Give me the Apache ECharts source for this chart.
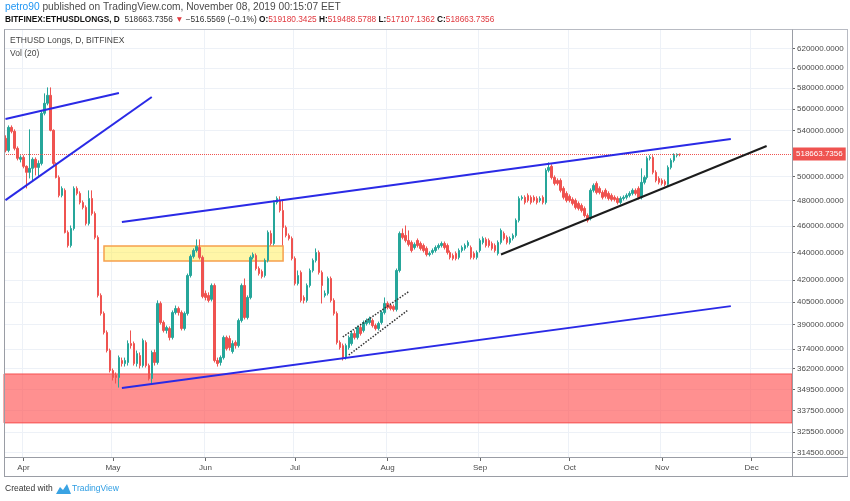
<!DOCTYPE html>
<html><head><meta charset="utf-8">
<script src="https://cdn.jsdelivr.net/npm/echarts@6/dist/echarts.min.js"></script>
<style>html,body{margin:0;padding:0;background:#fff}#c{width:850px;height:501px}</style>
</head><body><div id="c"></div><script>
// ---- data ----
const firstDay = [2019, 2, 26];
const lastDay = [2019, 11, 14];
const monthNames = ['Jan','Feb','Mar','Apr','May','Jun','Jul','Aug','Sep','Oct','Nov','Dec'];
const priceTicks = [620000, 600000, 580000, 560000, 540000, 500000, 480000, 460000, 440000, 420000, 405000, 390000, 374000, 362000, 349500, 337500, 325500, 314500];
const yMin = 312100, yMax = 639350;
const lastPrice = 518663.7356;
// [open, close, low, high]
const ohlc = [
[533000,522300,520600,535700],[522300,542900,520600,544700],[542900,539300,537500,544700],[539300,524100,522300,541100],
[524100,515400,513600,525800],[514500,516200,511900,518000],[516200,508500,506800,518000],[508500,503400,490000,509300],
[503400,506800,498300,541100],[506800,514500,496600,516200],[514500,507600,500800,516200],[507600,511000,499100,513600],
[511000,555900,509300,557800],[555900,565300,554000,574800],[565300,572900,563400,580600],[572900,540200,539300,580600],
[540200,511000,509300,541100],[511000,499100,498300,511900],[499100,484300,482700,500800],[484300,490000,482700,491700],
[488400,455100,454300,490000],[455100,445200,443700,456600],[445200,458100,443700,460400],[458100,490000,456600,491700],
[490000,485900,484300,491700],[485900,478600,477000,487600],[478600,474600,473000,480200],[474600,462000,460400,476200],
[462000,481800,460400,488400],[481800,469800,468200,488400],[469800,451300,449800,471400],[451300,409400,408000,452800],
[409400,397200,395800,410800],[397200,384700,383400,398500],[384700,373200,372000,386000],[373200,360900,359700,374400],
[360900,356700,354900,362100],[357900,356700,353100,359700],[356700,368800,350700,370100],[367000,365100,363300,368800],
[365100,367000,363300,368800],[365800,377600,363900,379600],[377600,376300,374400,386000],[377600,365100,363900,378900],
[365100,371300,363300,373200],[370100,363900,362100,372000],[363900,379600,362700,380800],[378300,363900,362700,379600],
[363900,356100,354900,365100],[356100,372000,353100,373200],[372000,365800,363900,373800],[365800,403900,364500,406000],
[403900,391200,389900,405300],[391200,386000,384700,392500],[386000,387900,384000,389200],[387300,381500,379600,388600],
[381500,397800,380200,399200],[397800,400500,396500,402500],[400500,397800,395800,401800],[397800,387300,386000,399200],
[387300,397200,386000,398500],[397200,423300,395800,424700],[423300,437100,421900,438500],[437100,441500,435600,443000],
[441500,444500,440000,449800],[443700,436400,434900,449800],[436400,408700,407400,437800],[410800,408000,406000,412800],
[409400,406000,404600,411500],[406700,416300,405300,417700],[416300,367000,365800,417700],[367000,365100,363300,368800],
[365800,368800,363900,370100],[368800,381500,367600,382700],[381500,374400,373200,382700],[380800,375100,373200,382700],
[372600,377600,371300,379600],[378300,376300,374400,379600],[376300,392500,375100,393800],[392500,416300,391200,417700],
[416300,394500,393200,421200],[394500,408000,393200,409400],[408000,436400,406700,437800],[436400,438500,434900,440000],
[437800,428300,426900,439300],[428300,424700,423300,429800],[426200,422600,421200,427600],[423300,434200,421900,435600],
[434200,455100,432700,456600],[454300,446700,445200,456600],[446700,478600,445200,480200],[478600,481800,477000,483500],
[480200,472200,470600,483500],[472200,458900,445200,480200],[458900,452800,451300,460400],[452800,450500,449000,454300],
[450500,435600,434200,452000],[435600,417700,416300,437100],[417700,423300,416300,426900],[425500,406000,404600,426900],
[408000,406000,403900,409400],[406000,416300,404600,417700],[416300,426900,414900,428300],[426900,434200,425500,435600],
[434200,440000,432700,443000],[440000,425500,424000,441500],[425500,416300,403900,426900],[409400,410800,408000,412800],
[410800,421200,409400,422600],[421200,406000,404600,422600],[406000,397200,395800,407400],[397200,378300,377000,398500],
[378300,375100,373800,379600],[376300,368800,367000,377600],[368800,376300,367600,377600],[375100,381500,373800,382700],
[377600,384000,376300,386000],[384000,381500,380200,386000],[381500,387900,380200,389200],[387900,384000,382700,389200],
[386000,391200,384700,392500],[390500,392500,389200,393800],[391200,393800,389900,395100],[392500,389200,387900,393800],
[389200,387300,386000,390500],[387300,390500,386000,391800],[391200,397800,389900,399200],[397800,403900,396500,408000],
[403900,401200,399900,405300],[402500,400500,399200,403900],[401800,399900,398500,403200],[399900,426900,398500,428300],
[426900,454300,425500,455800],[454300,451300,449800,458100],[452800,449000,447500,460400],[449000,446000,444500,456600],
[447500,441500,440000,449000],[443700,446000,442200,447500],[449000,445200,443700,450500],[446700,443000,441500,448200],
[445200,441500,440000,446700],[443000,438500,437100,444500],[438500,439300,437100,440800],[440000,441500,438500,443000],
[441500,443700,440000,445200],[443700,445200,442200,446700],[445200,446700,443700,448200],[446700,443700,442200,448200],
[445200,440000,438500,446700],[440000,436400,434900,441500],[437800,435600,434200,439300],[439300,435600,434200,440800],
[436400,441500,434900,443000],[441500,443700,440000,445200],[443000,445200,441500,446700],[445200,447500,443700,449000],
[443700,436400,434900,445200],[439300,436400,434900,440800],[436400,440000,434900,441500],[441500,449000,440000,450500],
[447500,450500,446000,452000],[449800,445200,443700,451300],[449000,445200,443700,450500],[446700,443000,441500,448200],
[445200,441500,440000,446700],[439300,447500,437800,449000],[447500,456600,446000,458100],[454300,450500,449000,455800],
[451300,447500,446000,452800],[447500,450500,446000,452000],[450500,452800,449000,454300],[452800,464400,451300,465900],
[464400,481800,462800,483500],[481800,482700,480200,484300],[482700,478600,477000,484300],[484300,480200,478600,485900],
[482700,478600,477000,484300],[482700,480200,478600,484300],[481800,478600,477000,483500],[480200,481800,478600,483500],
[482700,478600,477000,484300],[478600,505100,477000,506800],[505100,507600,503400,511900],[508500,499100,497400,510200],
[499100,494100,492500,500800],[496600,494100,492500,498300],[496600,488400,486700,498300],[490000,482700,481000,491700],
[485900,480200,478600,487600],[483500,480200,478600,485100],[481000,477800,476200,482700],[480200,474600,473000,481800],
[477800,473800,472200,479400],[476200,472200,470600,477800],[473800,468200,466700,475400],[468200,464400,462800,469800],
[465900,488400,464400,490000],[488400,492500,486700,494100],[494100,486700,485100,495800],[490000,486700,485100,491700],
[486700,482700,481000,488400],[488400,483500,481800,490000],[485900,481800,480200,487600],[484300,481000,479400,485900],
[482700,481000,479400,484300],[481800,478600,477000,483500],[478600,481800,477000,483500],[481800,482700,480200,484300],
[482700,484300,481000,485900],[484300,485900,482700,487600],[485900,488400,484300,490000],[488400,485900,484300,490000],
[490000,482700,481000,491700],[482700,495000,481000,506800],[495000,499100,493300,500800],[499100,515400,497400,517100],
[515400,516200,513600,518000],[516200,503400,501700,518000],[503400,496600,495000,505100],[498300,495000,493300,500000],
[496600,494100,492500,498300],[495800,493300,491700,497400],[493300,507600,491700,509300],[507600,513600,505900,515400],
[513600,518000,511900,519700],[518000,518900,516200,519700],[519180.3425,518663.7356,517107.1362,519488.5788]
];
// drawings: [startDate, startPrice, endDate, endPrice]
const blueLines = [
  ['2019-03-26', 550600, '2019-05-03', 575200],
  ['2019-03-26', 480500, '2019-05-14', 571300],
  ['2019-05-04', 463100, '2019-11-24', 532300],
  ['2019-05-04', 350500, '2019-11-24', 402100]
];
const blackLines = [['2019-09-08', 438500, '2019-12-06', 526200]];
const dottedLines = [
  ['2019-07-17', 381800, '2019-08-08', 411900],
  ['2019-07-19', 370400, '2019-08-08', 399700]
];
const yellowBox = ['2019-04-28', 444800, '2019-06-27', 433800];
const redZone = [358800, 330500];

// ---- build ----
const categories = [];
for (let t = Date.UTC(...firstDay); t <= Date.UTC(...lastDay); t += 86400000) {
  categories.push(new Date(t).toISOString().slice(0, 10));
}
const L = Math.log;
const F = 'Liberation Sans, Arial, sans-serif';
const isMonthStart = (i, v) => String(v).slice(8) === '01';
const tickLn = priceTicks.map(L);
const seg = (d, style) => [{coord: [d[0], L(d[1])], lineStyle: style}, {coord: [d[2], L(d[3])]}];

const chart = echarts.init(document.getElementById('c'), null, {renderer: 'canvas'});
chart.setOption({
  animation: false,
  backgroundColor: '#ffffff',
  grid: {left: 4, right: 58, top: 30, bottom: 44, containLabel: false, outerBoundsMode: 'none'},
  xAxis: {
    type: 'category', data: categories, boundaryGap: true,
    axisLine: {show: false},
    axisTick: {show: true, interval: isMonthStart, alignWithLabel: true, length: 4, lineStyle: {color: '#666'}},
    axisLabel: {interval: isMonthStart, formatter: v => monthNames[+v.slice(5, 7) - 1], color: '#4a4a4a', fontSize: 8, fontFamily: F, margin: 7},
    splitLine: {show: true, interval: isMonthStart, lineStyle: {color: '#edf1f7', width: 1}}
  },
  yAxis: {
    type: 'value', position: 'right', min: L(yMin), max: L(yMax),
    axisLine: {show: false},
    axisTick: {show: true, customValues: tickLn, length: 3, lineStyle: {color: '#666'}},
    axisLabel: {customValues: tickLn, formatter: v => Math.round(Math.exp(v)).toFixed(4), color: '#4a4a4a', fontSize: 8, fontFamily: F, margin: 5},
    splitLine: {show: true, lineStyle: {color: '#edf1f7', width: 1}}
  },
  series: [{
    type: 'candlestick',
    data: ohlc.map(r => r.map(L)),
    barWidth: 2,
    itemStyle: {color: '#26a69a', color0: '#ef5350', borderColor: '#26a69a', borderColor0: '#ef5350', borderWidth: 1},
    markArea: {
      silent: true, label: {show: false},
      data: [
        [{yAxis: L(redZone[0]), itemStyle: {color: 'rgba(255,82,82,0.64)', borderColor: 'rgba(245,70,70,0.9)', borderWidth: 1}}, {yAxis: L(redZone[1])}],
        [{coord: [yellowBox[0], L(yellowBox[1])], itemStyle: {color: 'rgba(255,238,80,0.5)', borderColor: '#f6a04d', borderWidth: 1.5}}, {coord: [yellowBox[2], L(yellowBox[3])]}]
      ]
    },
    markLine: {
      silent: true, symbol: ['none', 'none'], label: {show: false},
      emphasis: {disabled: true},
      data: [
        {yAxis: L(lastPrice), lineStyle: {color: '#ef5350', type: 'dotted', width: 1},
         label: {show: true, position: 'end', formatter: lastPrice.toFixed(4), color: '#fff', backgroundColor: '#ef5350', padding: [3, 3, 2, 3], fontSize: 8, fontFamily: F, distance: 1}},
        ...blueLines.map(d => seg(d, {color: '#2a2ae6', width: 2, type: 'solid'})),
        ...blackLines.map(d => seg(d, {color: '#1c1c1c', width: 2, type: 'solid'})),
        ...dottedLines.map(d => seg(d, {color: '#333333', width: 1.5, type: 'dotted'}))
      ]
    }
  }],
  graphic: [
    {type: 'text', left: 5, top: 2, z: 100, style: {text: '{u|petro90} published on TradingView.com, November 08, 2019 00:15:07 EET', fill: '#4a4a4a', fontSize: 10.2, fontFamily: F,
      rich: {u: {fill: '#2196f3', fontSize: 10.2, fontFamily: F}}}},
    {type: 'text', left: 5, top: 16, z: 100, style: {
      text: '{b|BITFINEX:ETHUSDLONGS, D}  518663.7356 {r|▼} −516.5569 (−0.1%) {b|O:}{r|519180.3425} {b|H:}{r|519488.5788} {b|L:}{r|517107.1362} {b|C:}{r|518663.7356}',
      fill: '#333', fontSize: 8.3, fontFamily: F,
      rich: {b: {fill: '#111', fontWeight: 'bold', fontSize: 8.3, fontFamily: F}, r: {fill: '#e0383e', fontSize: 8.3, fontFamily: F}}}},
    {type: 'text', left: 10, top: 36, z: 100, style: {text: 'ETHUSD Longs, D, BITFINEX', fill: '#444', fontSize: 8.5, fontFamily: F}},
    {type: 'text', left: 10, top: 49, z: 100, style: {text: 'Vol (20)', fill: '#444', fontSize: 8.5, fontFamily: F}},
    {type: 'line', z: 100, shape: {x1: 4, y1: 29.5, x2: 848, y2: 29.5}, style: {stroke: '#b8bbc3', lineWidth: 1}},
    {type: 'line', z: 100, shape: {x1: 4.5, y1: 29.5, x2: 4.5, y2: 477}, style: {stroke: '#9a9da5', lineWidth: 1}},
    {type: 'line', z: 100, shape: {x1: 847.5, y1: 29.5, x2: 847.5, y2: 477}, style: {stroke: '#b8bbc3', lineWidth: 1}},
    {type: 'line', z: 100, shape: {x1: 4, y1: 476.5, x2: 848, y2: 476.5}, style: {stroke: '#9a9da5', lineWidth: 1}},
    {type: 'line', z: 100, shape: {x1: 4, y1: 457.5, x2: 848, y2: 457.5}, style: {stroke: '#9a9da5', lineWidth: 1}},
    {type: 'line', z: 100, shape: {x1: 792.5, y1: 29.5, x2: 792.5, y2: 477}, style: {stroke: '#9a9da5', lineWidth: 1}},
    {type: 'text', left: 5, top: 484, z: 100, style: {text: 'Created with', fill: '#333', fontSize: 8.5, fontFamily: F}},
    {type: 'polygon', z: 100, shape: {points: [[56, 494], [60, 487], [63, 490], [67, 484], [71, 494]]}, style: {fill: '#3aa3e3'}},
    {type: 'text', left: 72, top: 484, z: 100, style: {text: 'TradingView', fill: '#2e9de3', fontSize: 8.5, fontFamily: F}}
  ]
});
</script></body></html>
